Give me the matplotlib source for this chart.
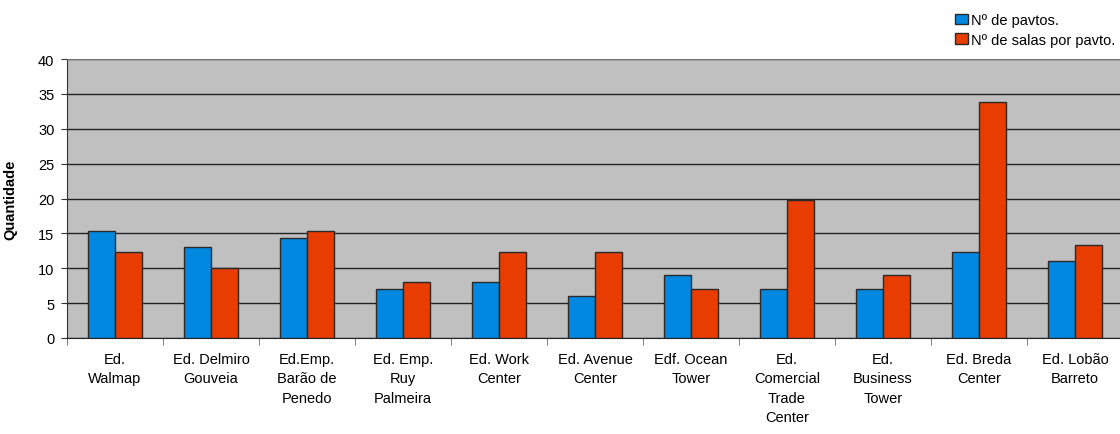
import matplotlib
matplotlib.use("Agg")
import matplotlib.pyplot as plt
import numpy as np
from matplotlib.patches import Patch

categories = ["Ed.\nWalmap", "Ed. Delmiro\nGouveia", "Ed.Emp.\nBarão de\nPenedo",
              "Ed. Emp.\nRuy\nPalmeira", "Ed. Work\nCenter", "Ed. Avenue\nCenter",
              "Edf. Ocean\nTower", "Ed.\nComercial\nTrade\nCenter", "Ed.\nBusiness\nTower",
              "Ed. Breda\nCenter", "Ed. Lobão\nBarreto"]
pavtos = [15.3, 13, 14.3, 7, 8, 6, 9, 7, 7, 12.3, 11]
salas = [12.3, 10, 15.3, 8, 12.3, 12.3, 7, 19.8, 9, 33.8, 13.3]
series_names = ["Nº de pavtos.", "Nº de salas por pavto."]
yticks = [0, 5, 10, 15, 20, 25, 30, 35, 40]

blue = "#0088E0"
red = "#E83C00"
plt.rcParams['font.family'] = ['Liberation Sans', 'DejaVu Sans']

W, H = 1120, 435
fig = plt.figure(figsize=(11.2, 4.35), dpi=100)
ax = fig.add_axes([67/W, 1-339/H, (1123-67)/W, (339-60)/H])
ax.set_facecolor("#C0C0C0")

x = np.arange(len(categories))
w = 0.286
ax.bar(x - w/2, pavtos, w, color=blue, edgecolor="#2a2a2a", linewidth=1, zorder=3)
ax.bar(x + w/2, salas, w, color=red, edgecolor="#2a2a2a", linewidth=1, zorder=3)

ax.set_xlim(-0.5, len(categories) - 0.5)
ax.set_ylim(0, 40)
ax.set_yticks(yticks)
ax.set_yticklabels([str(v) for v in yticks], fontsize=10.5)
ax.yaxis.grid(True, color="#222222", linewidth=1)
ax.set_axisbelow(True)
ax.tick_params(axis='y', length=4, color="#333333", pad=5)

ax.set_xticks(x)
ax.set_xticklabels(categories, fontsize=10.5, linespacing=1.5)
ax.tick_params(axis='x', length=0, pad=10)
ax.set_xticks(np.arange(len(categories) + 1) - 0.5, minor=True)
ax.tick_params(axis='x', which='minor', length=5, color="#666666")

ax.spines['right'].set_visible(False)
ax.spines['top'].set_color("#777777")
ax.spines['left'].set_color("#333333")
ax.spines['bottom'].set_color("#222222")

ax.set_ylabel("Quantidade", fontsize=10.5, fontweight='bold')
ax.yaxis.set_label_coords((17-67)/(1123-67), 0.5)

handles = [Patch(facecolor=blue, edgecolor="#2a2a2a"), Patch(facecolor=red, edgecolor="#2a2a2a")]
fig.legend(handles, series_names, loc='upper left', bbox_to_anchor=(955/W, 1-14/H),
           frameon=False, fontsize=10.5, handlelength=0.9, handleheight=0.7,
           handletextpad=0.2, labelspacing=0.38, borderaxespad=0, borderpad=0)

fig.savefig("out.png", dpi=100)
